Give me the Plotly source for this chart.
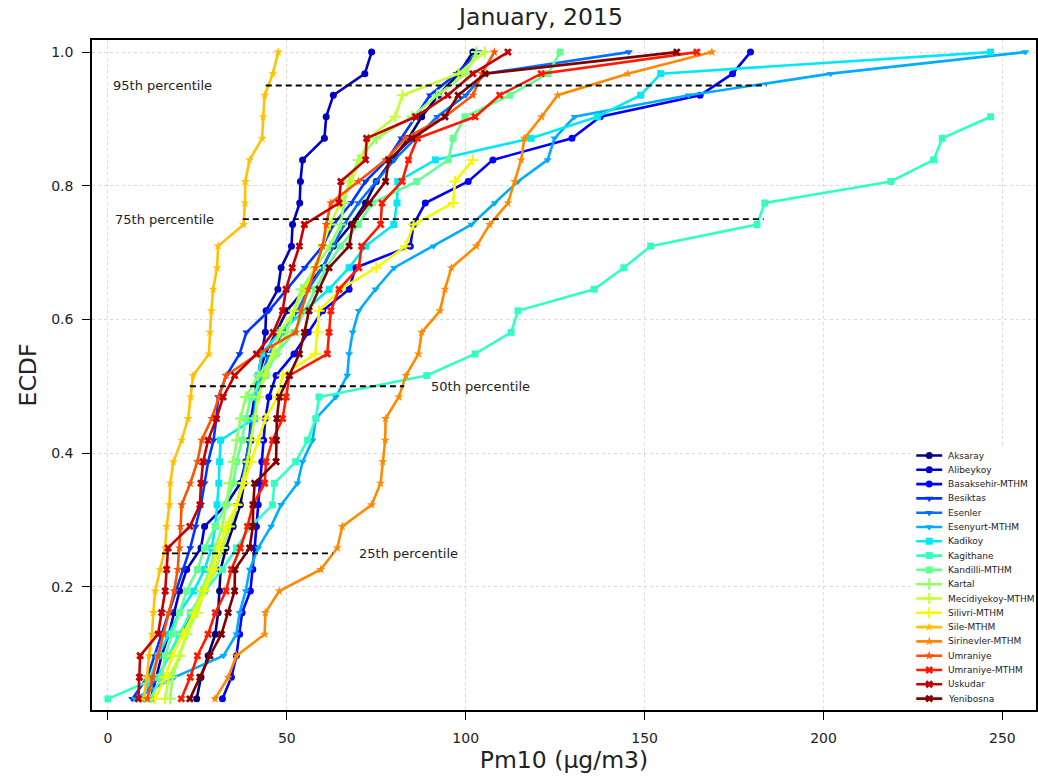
import numpy as np
import plotly.graph_objects as go

stations = ["Aksaray", "Alibeykoy", "Basaksehir-MTHM", "Besiktas", "Esenler", "Esenyurt-MTHM",
            "Kadikoy", "Kagithane", "Kandilli-MTHM", "Kartal", "Mecidiyekoy-MTHM", "Silivri-MTHM",
            "Sile-MTHM", "Sirinevler-MTHM", "Umraniye", "Umraniye-MTHM", "Uskudar", "Yenibosna"]

# sorted daily PM10 values (ECDF x)
aksaray = [24.8, 26, 28, 30, 30.8, 31.2, 31.5, 33, 35, 37, 38, 39, 40, 40.5, 41, 42, 44, 47, 50, 55,
           60, 63, 68, 72, 75, 79.4, 84, 87.7, 92.4, 98, 102]
alibeykoy = [12, 13.5, 15, 17, 18.5, 20, 22, 26, 27, 33, 37, 38.5, 39.5, 40, 41, 42, 43, 44, 44.2, 47.5,
             48.4, 51.3, 51.6, 53.6, 53.8, 54.4, 60.5, 61, 63, 71.8, 73.7]
basaksehir = [32, 34.5, 35.9, 36.8, 37.5, 39.8, 40.5, 41, 41.5, 42, 42.5, 43, 43.5, 44, 45, 47, 52, 56, 60,
              67.4, 69.2, 84.5, 85.4, 88.7, 100.7, 107.6, 129.7, 137.6, 165.5, 174.6, 179.6]
besiktas = [6.8, 11, 13, 15, 17, 19, 21, 23, 24.5, 26, 27, 28, 29.5, 30.3, 30.8, 33.1, 36.8, 38.7, 45, 50,
            55, 60, 63, 68, 72, 78, 82, 86, 90, 97.4, 103.5]
esenler = [9, 14, 17, 20, 24, 27, 30, 32, 34, 36, 37.5, 38.5, 39.5, 40.5, 41.5, 43, 45, 49, 53, 56,
           60, 63, 66, 70, 75, 80, 86, 92, 100, 105.4, 145.6]
esenyurt = [7.5, 18.5, 32.3, 35.9, 36.8, 38.5, 39.6, 42, 45.6, 48.4, 53, 54.4, 57.2, 58.1, 63.7, 66.9, 67.4,
            68.4, 70.1, 74.8, 80, 91, 101.6, 108.1, 114.6, 122.9, 124.8, 130.4, 162.3, 202, 256.4]
kadikoy = [9.5, 12, 14, 17, 20, 24, 27, 29, 30, 30.5, 31, 31.2, 31.5, 41, 41.5, 42, 43, 48, 55, 61.8,
           67.4, 72, 79.9, 80.8, 81, 91.5, 118.3, 136.8, 148.9, 154.5, 246.7]
kagithane = [0, 14, 17, 20, 23, 27, 32, 35.9, 40, 46, 46.5, 52.5, 55.8, 58.1, 59, 89.1, 102.6, 112.7,
             114.6, 135.9, 144.2, 151.7, 181.4, 183.6, 218.8, 230.8, 233.2, 246.7]
kandilli = [11.8, 15, 16, 18, 20, 22, 25, 27, 30, 33, 35, 36, 37.5, 38.5, 40, 44, 47, 52, 55, 58,
            61, 65, 70, 73.9, 86.3, 95.1, 96.5, 99.8, 112.3, 123, 126.4]
kartal = [17.4, 18, 20, 22, 24, 26, 28.5, 30, 32, 33, 34, 35, 36, 37, 38.5, 42, 47, 50, 52, 54,
          58, 62, 65, 66, 67.4, 70, 75, 85, 92, 100, 103]
mecidiyekoy = [16, 17, 20, 22, 25, 27, 30, 32, 34, 36, 37.5, 39, 40, 41, 42, 44, 46, 48, 52, 55,
               58, 60, 62, 65, 68, 70.5, 72.9, 80.3, 82.3, 98, 105.3]
silivri = [13.2, 16, 18, 21, 24, 27, 29, 31, 33, 36, 38, 40, 42, 44, 47.4, 48.8, 58, 58.5, 59, 65,
           75, 83.2, 85.4, 96.5, 97, 102]
sile = [10, 10.9, 11.5, 12.3, 12.7, 13.2, 14.6, 16, 16.4, 17.2, 17.4, 18.3, 20.6, 22.4, 23.1, 23.8, 28.2,
        28.5, 28.9, 29.4, 30.5, 30.8, 37.9, 38.3, 38.4, 39.6, 43.1, 43.4, 43.8, 46.1, 47.6]
sirinevler = [29.9, 33.6, 35.9, 43.8, 44, 47.9, 59.5, 64.1, 65.5, 73.7, 76.2, 76.8, 77.5, 77.6, 81.3, 83.3,
              86.8, 87.7, 92.8, 94.2, 96, 103, 106.7, 111.8, 113.7, 115.5, 116.4, 121.2, 125.7, 145.3, 168.8]
umraniye = [11, 12.5, 14, 15.5, 17, 18.5, 19.5, 20, 20.3, 20.6, 23, 25, 26.2, 29, 31, 33, 42, 52.5, 54, 56,
            58, 60, 61, 62.3, 70, 77.6, 83.1, 94.2, 102, 104.5, 108]
umraniye_mthm = [20.5, 23, 25, 28, 30, 33, 34.5, 37, 39, 40.5, 43.8, 44.2, 46, 48.8, 49.8, 50.7, 61.3, 61.8,
                 62.3, 64.6, 70.1, 70.9, 76.2, 76.6, 82.2, 84, 86.5, 102.6, 109.5, 121.1, 164.6]
uskudar = [8.5, 8.8, 9, 14, 15, 16, 16.4, 16.8, 22.9, 25.7, 26, 26.6, 28, 30.3, 32.2, 35.4, 41.5, 46.2,
           48.8, 49.8, 51.5, 53.5, 54.9, 64.6, 65.1, 72, 72.3, 86, 95, 102, 111.8]
yenibosna = [22.9, 25.7, 28.5, 31.7, 33.6, 35.4, 35.5, 39.6, 40.5, 40.6, 41, 47, 47.1, 47.2, 47.9, 50.7,
             53.5, 54.9, 56.2, 59, 61.8, 67.4, 68.4, 73, 77.6, 78.5, 85, 94.2, 97.9, 105.4, 159]

series = [aksaray, alibeykoy, basaksehir, besiktas, esenler, esenyurt, kadikoy, kagithane, kandilli,
          kartal, mecidiyekoy, silivri, sile, sirinevler, umraniye, umraniye_mthm, uskudar, yenibosna]
n_days = 31

# percentile reference lines (level, start, end) and their labels
pct_levels = [0.95, 0.75, 0.50, 0.25]
pct_start = [44.1, 37.7, 22.9, 15.1]
pct_end = [184.1, 183.3, 82.8, 62.8]
pct_labels = ["95th percentile", "75th percentile", "50th percentile", "25th percentile"]
pct_label_x = [0.8, 1.4, 89.8, 69.7]

x_ticks = [0, 50, 100, 150, 200, 250]
y_ticks = [0.2, 0.4, 0.6, 0.8, 1.0]


def jet(v):
    r = np.interp(v, [0, 0.35, 0.66, 0.89, 1], [0, 0, 1, 1, 0.5])
    g = np.interp(v, [0, 0.125, 0.375, 0.64, 0.91, 1], [0, 0, 1, 1, 0, 0])
    b = np.interp(v, [0, 0.11, 0.34, 0.65, 1], [0.5, 1, 1, 0, 0])
    return "rgb(%d,%d,%d)" % (round(r * 255), round(g * 255), round(b * 255))


symbols = ["circle", "triangle-down", "square", "cross-thin-open", "star", "x"]


def marker_style(sym, col, size):
    if sym.endswith("-open"):
        return dict(symbol=sym, size=size + 1, color=col, line=dict(color=col, width=2))
    return dict(symbol=sym, size=size, color=col, line=dict(width=0))


fig = go.Figure()
for i, (name, vals) in enumerate(zip(stations, series)):
    xs = np.array(vals, dtype=float)
    ys = np.arange(1, len(xs) + 1) / n_days
    col = jet(i / (len(stations) - 1))
    sym = symbols[i // 3]
    fig.add_trace(go.Scatter(x=xs, y=ys, mode="lines+markers", name=name, showlegend=False,
                             line=dict(color=col, width=2.6), marker=marker_style(sym, col, 7)))

for p, x0, x1, lab, lx in zip(pct_levels, pct_start, pct_end, pct_labels, pct_label_x):
    fig.add_trace(go.Scatter(x=[x0, x1], y=[p, p], mode="lines", showlegend=False,
                             line=dict(color="black", width=1.8, dash="6px,4px"), hoverinfo="skip"))
    fig.add_annotation(x=lx, y=p, text=lab, showarrow=False, xanchor="left", yanchor="middle",
                       font=dict(size=13, color="#222"))

# legend drawn on a small auxiliary axis placed in the lower-right corner (pixel units)
L_LEFT, L_RIGHT, L_TOP, L_BOTTOM = 915, 1038, 445, 708
row0, row_step = 455.5, 14.3
for i, name in enumerate(stations):
    col = jet(i / (len(stations) - 1))
    sym = symbols[i // 3]
    yy = row0 + row_step * i
    fig.add_trace(go.Scatter(x=[918, 944], y=[yy, yy], mode="lines", xaxis="x2", yaxis="y2",
                             showlegend=False, hoverinfo="skip", line=dict(color=col, width=2.6)))
    fig.add_trace(go.Scatter(x=[931], y=[yy], mode="markers", xaxis="x2", yaxis="y2",
                             showlegend=False, hoverinfo="skip", marker=marker_style(sym, col, 7)))
    fig.add_annotation(x=948, y=yy, xref="x2", yref="y2", text=name, showarrow=False,
                       xanchor="left", yanchor="middle", font=dict(size=9, color="#222"))

axis_common = dict(showline=True, linecolor="black", linewidth=1.6, mirror=True,
                   ticks="outside", ticklen=8, tickwidth=1.4, tickcolor="black",
                   showgrid=True, gridcolor="#dadada", griddash="dot", gridwidth=1,
                   zeroline=False, tickfont=dict(size=14, color="#222"))

fig.update_xaxes(range=[-4.46, 259.4], tickvals=x_ticks, ticktext=[str(v) for v in x_ticks],
                 ticklabelstandoff=6,
                 title=dict(text="Pm10 (µg/m3)", font=dict(size=23.5, color="#222"), standoff=6),
                 **axis_common)
fig.update_yaxes(range=[0.0156, 1.0181], tickvals=y_ticks, ticktext=["%.1f" % v for v in y_ticks],
                 ticklabelstandoff=6,
                 title=dict(text="ECDF", font=dict(size=23.5, color="#222"), standoff=8),
                 **axis_common)

PLOT_L, PLOT_R, PLOT_T, PLOT_B = 92, 1038, 40, 710
fig.update_layout(
    width=1038, height=783,
    margin=dict(l=PLOT_L, r=1038 - PLOT_R, t=PLOT_T, b=783 - PLOT_B),
    paper_bgcolor="white", plot_bgcolor="white",
    font=dict(family="DejaVu Sans", color="#222"),
    title=dict(text="January, 2015", x=541 / 1038, xanchor="center", y=1 - 17 / 783, yanchor="middle",
               font=dict(size=23.5, color="#222")),
    xaxis2=dict(domain=[(L_LEFT - PLOT_L) / (PLOT_R - PLOT_L), 1], range=[L_LEFT, L_RIGHT],
                anchor="y2", visible=False, fixedrange=True),
    yaxis2=dict(domain=[(PLOT_B - L_BOTTOM) / (PLOT_B - PLOT_T), (PLOT_B - L_TOP) / (PLOT_B - PLOT_T)],
                range=[L_BOTTOM, L_TOP], anchor="x2", visible=False, fixedrange=True),
    showlegend=False,
)

fig.write_html("out.html")
